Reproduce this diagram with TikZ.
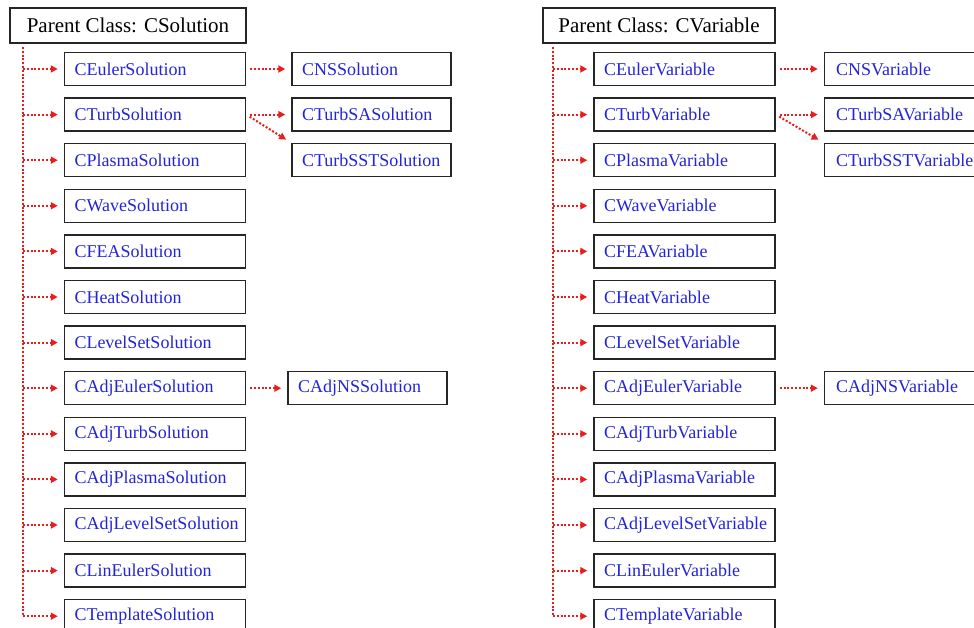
\documentclass[tikz,border=0pt]{standalone}
\usepackage{fontspec}
\setmainfont{Liberation Serif}
\usepackage{xcolor}
\usetikzlibrary{arrows.meta, positioning}
\definecolor{classblue}{RGB}{35,35,215}
\definecolor{inheritred}{RGB}{232,30,30}
\tikzset{
    parent/.style={rectangle, draw=black!85, line width=1.5pt, minimum width=236pt, minimum height=35pt, font=\fontsize{21}{24}\selectfont},
    child/.style={rectangle, draw=black!85, line width=1.5pt, minimum width=181pt, minimum height=33pt, text width=161pt, inner xsep=10pt, align=left, text=classblue, font=\fontsize{18}{20}\selectfont},
    leaf/.style={child, minimum width=159pt, text width=139pt},
    trunk/.style={inheritred, line width=2pt, dash pattern=on 2pt off 1.8pt},
    arrow/.style={trunk, -{Triangle[length=7pt, width=7pt]}, shorten >=6pt}
}
\begin{document}
\begin{tikzpicture}[x=1pt, y=1pt, node distance=11.1pt]
    \clip (0,0) rectangle (974,-628);
    % CSolution tree
    \node (pSol) [parent] at (128,-25.5) {Parent Class: CSolution};
    \node (cEulerSol) [child] at (155,-69) {CEulerSolution};
    \node (cTurbSol) [child, below=of cEulerSol] {CTurbSolution};
    \node (cPlasmaSol) [child, below=of cTurbSol] {CPlasmaSolution};
    \node (cWaveSol) [child, below=of cPlasmaSol] {CWaveSolution};
    \node (cFEASol) [child, below=of cWaveSol] {CFEASolution};
    \node (cHeatSol) [child, below=of cFEASol] {CHeatSolution};
    \node (cLevelSetSol) [child, below=of cHeatSol] {CLevelSetSolution};
    \node (cAdjEulerSol) [child, below=of cLevelSetSol] {CAdjEulerSolution};
    \node (cAdjTurbSol) [child, below=of cAdjEulerSol] {CAdjTurbSolution};
    \node (cAdjPlasmaSol) [child, below=of cAdjTurbSol] {CAdjPlasmaSolution};
    \node (cAdjLevelSetSol) [child, below=of cAdjPlasmaSol] {CAdjLevelSetSolution};
    \node (cLinEulerSol) [child, below=of cAdjLevelSetSol] {CLinEulerSolution};
    \node (cTemplateSol) [child, below=of cLinEulerSol] {CTemplateSolution};
    \node (cNSSol) [leaf, right=45pt of cEulerSol] {CNSSolution};
    \node (cTurbSASol) [leaf, right=45pt of cTurbSol] {CTurbSASolution};
    \node (cTurbSSTSol) [leaf, below=11pt of cTurbSASol] {CTurbSSTSolution};
    \node (cAdjNSSol) [leaf, right=41pt of cAdjEulerSol] {CAdjNSSolution};
    \coordinate (solTrunk) at (23,-47);

    \draw[trunk] (solTrunk) -- (solTrunk |- cTemplateSol);
    \draw[arrow] (solTrunk |- cEulerSol) -- (cEulerSol);
    \draw[arrow] (solTrunk |- cTurbSol) -- (cTurbSol);
    \draw[arrow] (solTrunk |- cPlasmaSol) -- (cPlasmaSol);
    \draw[arrow] (solTrunk |- cWaveSol) -- (cWaveSol);
    \draw[arrow] (solTrunk |- cFEASol) -- (cFEASol);
    \draw[arrow] (solTrunk |- cHeatSol) -- (cHeatSol);
    \draw[arrow] (solTrunk |- cLevelSetSol) -- (cLevelSetSol);
    \draw[arrow] (solTrunk |- cAdjEulerSol) -- (cAdjEulerSol);
    \draw[arrow] (solTrunk |- cAdjTurbSol) -- (cAdjTurbSol);
    \draw[arrow] (solTrunk |- cAdjPlasmaSol) -- (cAdjPlasmaSol);
    \draw[arrow] (solTrunk |- cAdjLevelSetSol) -- (cAdjLevelSetSol);
    \draw[arrow] (solTrunk |- cLinEulerSol) -- (cLinEulerSol);
    \draw[arrow] (solTrunk |- cTemplateSol) -- (cTemplateSol);
    \draw[arrow, shorten <=4pt] (cEulerSol) -- (cNSSol);
    \draw[arrow, shorten <=4pt] (cTurbSol) -- (cTurbSASol);
    \draw[arrow, shorten <=4pt] (cTurbSol.east) -- (cTurbSSTSol.north west);
    \draw[arrow, shorten <=4pt] (cAdjEulerSol) -- (cAdjNSSol);

    % CVariable tree
    \node (pVar) [parent, minimum width=232pt] at (659,-25.5) {Parent Class: CVariable};
    \node (cEulerVar) [child] at (684.5,-69) {CEulerVariable};
    \node (cTurbVar) [child, below=of cEulerVar] {CTurbVariable};
    \node (cPlasmaVar) [child, below=of cTurbVar] {CPlasmaVariable};
    \node (cWaveVar) [child, below=of cPlasmaVar] {CWaveVariable};
    \node (cFEAVar) [child, below=of cWaveVar] {CFEAVariable};
    \node (cHeatVar) [child, below=of cFEAVar] {CHeatVariable};
    \node (cLevelSetVar) [child, below=of cHeatVar] {CLevelSetVariable};
    \node (cAdjEulerVar) [child, below=of cLevelSetVar] {CAdjEulerVariable};
    \node (cAdjTurbVar) [child, below=of cAdjEulerVar] {CAdjTurbVariable};
    \node (cAdjPlasmaVar) [child, below=of cAdjTurbVar] {CAdjPlasmaVariable};
    \node (cAdjLevelSetVar) [child, below=of cAdjPlasmaVar] {CAdjLevelSetVariable};
    \node (cLinEulerVar) [child, below=of cAdjLevelSetVar] {CLinEulerVariable};
    \node (cTemplateVar) [child, below=of cLinEulerVar] {CTemplateVariable};
    \node (cNSVar) [leaf, minimum width=162pt, right=48pt of cEulerVar] {CNSVariable};
    \node (cTurbSAVar) [leaf, minimum width=162pt, right=48pt of cTurbVar] {CTurbSAVariable};
    \node (cTurbSSTVar) [leaf, minimum width=162pt, below=11pt of cTurbSAVar] {CTurbSSTVariable};
    \node (cAdjNSVar) [leaf, minimum width=162pt, right=48pt of cAdjEulerVar] {CAdjNSVariable};
    \coordinate (varTrunk) at (553,-47);

    \draw[trunk] (varTrunk) -- (varTrunk |- cTemplateVar);
    \draw[arrow] (varTrunk |- cEulerVar) -- (cEulerVar);
    \draw[arrow] (varTrunk |- cTurbVar) -- (cTurbVar);
    \draw[arrow] (varTrunk |- cPlasmaVar) -- (cPlasmaVar);
    \draw[arrow] (varTrunk |- cWaveVar) -- (cWaveVar);
    \draw[arrow] (varTrunk |- cFEAVar) -- (cFEAVar);
    \draw[arrow] (varTrunk |- cHeatVar) -- (cHeatVar);
    \draw[arrow] (varTrunk |- cLevelSetVar) -- (cLevelSetVar);
    \draw[arrow] (varTrunk |- cAdjEulerVar) -- (cAdjEulerVar);
    \draw[arrow] (varTrunk |- cAdjTurbVar) -- (cAdjTurbVar);
    \draw[arrow] (varTrunk |- cAdjPlasmaVar) -- (cAdjPlasmaVar);
    \draw[arrow] (varTrunk |- cAdjLevelSetVar) -- (cAdjLevelSetVar);
    \draw[arrow] (varTrunk |- cLinEulerVar) -- (cLinEulerVar);
    \draw[arrow] (varTrunk |- cTemplateVar) -- (cTemplateVar);
    \draw[arrow, shorten <=4pt] (cEulerVar) -- (cNSVar);
    \draw[arrow, shorten <=4pt] (cTurbVar) -- (cTurbSAVar);
    \draw[arrow, shorten <=4pt] (cTurbVar.east) -- (cTurbSSTVar.north west);
    \draw[arrow, shorten <=4pt] (cAdjEulerVar) -- (cAdjNSVar);
\end{tikzpicture}
\end{document}
